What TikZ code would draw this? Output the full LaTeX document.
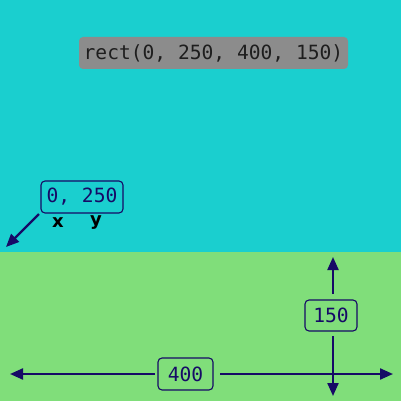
\documentclass[tikz,border=0pt]{standalone}
\usepackage{fontspec}
\setmonofont{DejaVu Sans Mono}
\newfontfamily\labfont{DejaVu Sans}
\usetikzlibrary{arrows.meta}
\definecolor{skyc}{RGB}{26,207,207}
\definecolor{grassc}{RGB}{128,222,122}
\definecolor{navyc}{RGB}{22,10,102}
\definecolor{boxgray}{RGB}{140,140,140}
\definecolor{codetext}{RGB}{30,30,30}
\tikzset{
  codebox/.style={rounded corners=4pt, inner sep=0pt, text=codetext, font=\ttfamily\fontsize{19.6}{20}\selectfont},
  dimbox/.style={draw=navyc, line width=1.1pt, rounded corners=4pt, inner sep=0pt, text=navyc, font=\ttfamily\fontsize{19.6}{20}\selectfont},
  axlab/.style={font=\labfont\bfseries\fontsize{18}{18}\selectfont, inner sep=0pt},
  arr/.style={draw=navyc, line width=2.2pt, -{Triangle[length=13pt,width=11pt]}}
}
\begin{document}
\begin{tikzpicture}[x=1pt,y=-1pt]
\useasboundingbox (0,0) rectangle (401,401);
\fill[skyc] (0,0) rectangle (401,252);
\fill[grassc] (0,252) rectangle (401,401);
\node[codebox, fill=boxgray, minimum width=269pt, minimum height=32pt] (code) at (213.5,53) {rect(0, 250, 400, 150)};
\node[dimbox, minimum width=82pt, minimum height=32pt] (orig) at (82,197) {0, 250};
\node[axlab] (xl) at (58,223) {x};
\node[axlab] (yl) at (96,223) {y};
\coordinate (ostart) at (39,214);
\coordinate (oend) at (6,247);
\draw[arr] (ostart) -- (oend);
\node[dimbox, minimum width=52pt, minimum height=31pt] (hbox) at (331,315.5) {150};
\coordinate (vtop0) at (333,294);
\coordinate (vtop) at (333,257);
\coordinate (vbot0) at (333,336);
\coordinate (vbot) at (333,396);
\draw[arr] (vtop0) -- (vtop);
\draw[arr] (vbot0) -- (vbot);
\node[dimbox, minimum width=55pt, minimum height=32pt] (wbox) at (185.5,374) {400};
\coordinate (hl0) at (155,374);
\coordinate (hl) at (10,374);
\coordinate (hr0) at (220,374);
\coordinate (hr) at (393,374);
\draw[arr] (hl0) -- (hl);
\draw[arr] (hr0) -- (hr);
\end{tikzpicture}
\end{document}
